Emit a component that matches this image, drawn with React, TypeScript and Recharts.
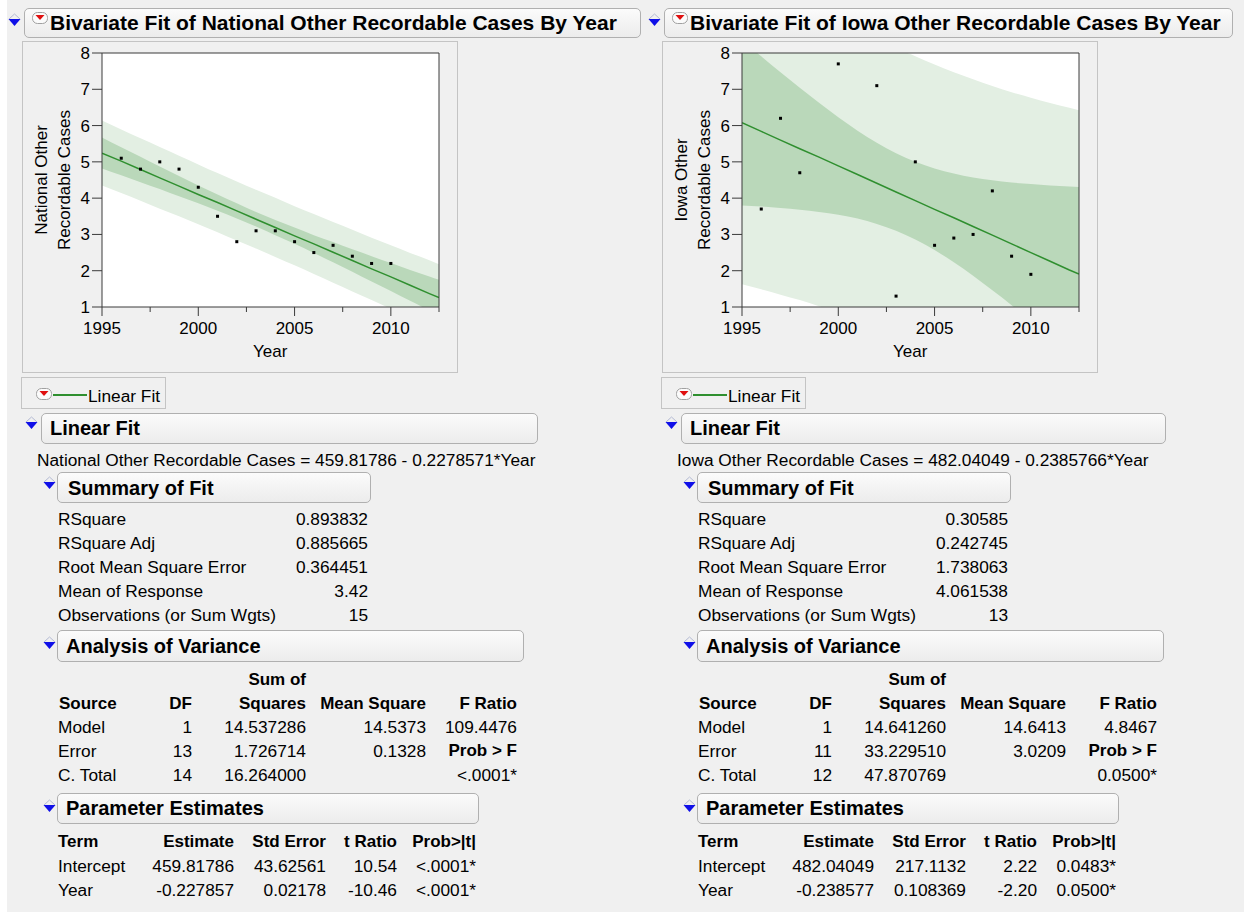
import React from "react";
import {
  Area,
  CartesianGrid,
  ComposedChart,
  Line,
  ReferenceLine,
  Scatter,
  XAxis,
  YAxis,
} from "recharts";

const FIT_YEARS = [
  1995, 1996, 1997, 1998, 1999, 2000, 2001, 2002, 2003, 2004, 2005, 2006,
  2007, 2008, 2009, 2010, 2011, 2012, 2012.5,
];

// National
const NAT_YEARS = [
  1996, 1997, 1998, 1999, 2000, 2001, 2002, 2003, 2004, 2005, 2006, 2007,
  2008, 2009, 2010,
];
const NAT_CASES = [
  5.1, 4.8, 5.0, 4.8, 4.3, 3.5, 2.8, 3.1, 3.1, 2.8, 2.5, 2.7, 2.4, 2.2, 2.2,
];
const NAT_FIT = [
  5.24, 5.02, 4.79, 4.56, 4.33, 4.1, 3.88, 3.65, 3.42, 3.19, 2.96, 2.74, 2.51,
  2.28, 2.05, 1.83, 1.6, 1.37, 1.26,
];
const NAT_CI_LO = [
  4.82, 4.63, 4.44, 4.25, 4.05, 3.86, 3.65, 3.44, 3.22, 2.98, 2.74, 2.49, 2.23,
  1.97, 1.7, 1.44, 1.17, 0.9, 0.76,
];
const NAT_CI_HI = [
  5.67, 5.4, 5.14, 4.87, 4.61, 4.35, 4.1, 3.86, 3.62, 3.4, 3.19, 2.98, 2.79,
  2.59, 2.4, 2.21, 2.02, 1.84, 1.75,
];
const NAT_PI_LO = [
  4.35, 4.14, 3.93, 3.71, 3.5, 3.28, 3.06, 2.83, 2.61, 2.38, 2.15, 1.91, 1.67,
  1.43, 1.19, 0.95, 0.7, 0.45, 0.33,
];
const NAT_PI_HI = [
  6.14, 5.89, 5.65, 5.41, 5.17, 4.93, 4.69, 4.46, 4.23, 4.01, 3.78, 3.56, 3.34,
  3.13, 2.91, 2.7, 2.49, 2.29, 2.18,
];

// Iowa
const IOWA_YEARS = [
  1996, 1997, 1998, 2000, 2002, 2003, 2004, 2005, 2006, 2007, 2008, 2009, 2010,
];
const IOWA_CASES = [3.7, 6.2, 4.7, 7.7, 7.1, 1.3, 5.0, 2.7, 2.9, 3.0, 4.2, 2.4, 1.9];
const IOWA_FIT = [
  6.08, 5.84, 5.6, 5.36, 5.13, 4.89, 4.65, 4.41, 4.17, 3.93, 3.69, 3.46, 3.22,
  2.98, 2.74, 2.5, 2.26, 2.02, 1.91,
];
const IOWA_CI_LO = [
  3.8, 3.77, 3.73, 3.68, 3.62, 3.54, 3.44, 3.29, 3.1, 2.86, 2.57, 2.23, 1.86,
  1.46, 1.05, 0.62, 0.18, -0.27, -0.5,
];
const IOWA_CI_HI = [
  8.36, 7.91, 7.47, 7.04, 6.63, 6.23, 5.86, 5.53, 5.24, 5.0, 4.82, 4.68, 4.57,
  4.49, 4.43, 4.39, 4.35, 4.32, 4.31,
];
const IOWA_PI_LO = [
  1.63, 1.49, 1.34, 1.19, 1.02, 0.83, 0.64, 0.43, 0.2, -0.04, -0.29, -0.56,
  -0.84, -1.14, -1.44, -1.76, -2.1, -2.44, -2.61,
];
const IOWA_PI_HI = [
  10.53, 10.19, 9.86, 9.54, 9.24, 8.94, 8.66, 8.4, 8.14, 7.91, 7.68, 7.47, 7.28,
  7.09, 6.92, 6.77, 6.62, 6.49, 6.42,
];

const X_TICKS = [1995, 1997.5, 2000, 2002.5, 2005, 2007.5, 2010, 2012.5];
const Y_TICKS = [1, 2, 3, 4, 5, 6, 7, 8];

// report tables
const SUMMARY_LABELS = [
  "RSquare",
  "RSquare Adj",
  "Root Mean Square Error",
  "Mean of Response",
  "Observations (or Sum Wgts)",
];
const NAT_SUMMARY = ["0.893832", "0.885665", "0.364451", "3.42", "15"];
const IOWA_SUMMARY = ["0.30585", "0.242745", "1.738063", "4.061538", "13"];

const ANOVA_SOURCES = ["Model", "Error", "C. Total"];
const NAT_DF = ["1", "13", "14"];
const NAT_SS = ["14.537286", "1.726714", "16.264000"];
const NAT_MS = ["14.5373", "0.1328", ""];
const IOWA_DF = ["1", "11", "12"];
const IOWA_SS = ["14.641260", "33.229510", "47.870769"];
const IOWA_MS = ["14.6413", "3.0209", ""];

const TERMS = ["Intercept", "Year"];
const NAT_EST = ["459.81786", "-0.227857"];
const NAT_SE = ["43.62561", "0.02178"];
const NAT_T = ["10.54", "-10.46"];
const NAT_P = ["<.0001*", "<.0001*"];
const IOWA_EST = ["482.04049", "-0.238577"];
const IOWA_SE = ["217.1132", "0.108369"];
const IOWA_T = ["2.22", "-2.20"];
const IOWA_P = ["0.0483*", "0.0500*"];

const FONT = '"Liberation Sans", Arial, sans-serif';
const AXIS = "#3a3a3a";
const GREEN = "#2f8f2f";
const LIGHT_BAND = "#e3efe3";
const DARK_BAND = "#bad8ba";
const BOX_BORDER = "#b0b0b0";
const BODY_SIZE = 17.3;
const HEAD_SIZE = 17;

function XTick(props: any) {
  const { x, y, payload } = props;
  const major = payload.value % 5 === 0;
  return (
    <g>
      <line x1={x} x2={x} y1={y} y2={y + (major ? 9 : 5)} stroke={AXIS} />
      {major && (
        <text x={x} y={y + 27} textAnchor="middle" fontSize={17} fill="#000" fontFamily={FONT}>
          {payload.value}
        </text>
      )}
    </g>
  );
}

function Dot(props: any) {
  const { cx, cy } = props;
  return <rect x={cx - 1.5} y={cy - 1.5} width={3} height={3} fill="#000" />;
}

interface PlotProps {
  years: number[];
  cases: number[];
  fit: number[];
  ciLo: number[];
  ciHi: number[];
  piLo: number[];
  piHi: number[];
}

function FitPlot({ years, cases, fit, ciLo, ciHi, piLo, piHi }: PlotProps) {
  const bands = FIT_YEARS.map((x, i) => ({
    x,
    fit: fit[i],
    ci: [ciLo[i], ciHi[i]],
    pi: [piLo[i], piHi[i]],
  }));
  const points = years.map((x, i) => ({ x, y: cases[i] }));

  return (
    <ComposedChart
      width={434}
      height={330}
      data={bands}
      margin={{ top: 11, right: 18, left: 0, bottom: 0 }}
    >
      <CartesianGrid fill="#ffffff" horizontal={false} vertical={false} />
      <XAxis
        dataKey="x"
        type="number"
        domain={[1995, 2012.5]}
        ticks={X_TICKS}
        interval={0}
        allowDataOverflow
        tick={<XTick />}
        tickLine={false}
        tickSize={0}
        tickMargin={0}
        axisLine={{ stroke: AXIS }}
        height={65}
      />
      <YAxis
        type="number"
        domain={[1, 8]}
        ticks={Y_TICKS}
        interval={0}
        allowDataOverflow
        width={79}
        tickSize={10}
        tickMargin={2}
        tick={{ fill: "#000", fontSize: 17, fontFamily: FONT }}
        tickLine={{ stroke: AXIS }}
        axisLine={{ stroke: AXIS }}
      />
      <Area
        dataKey="pi"
        type="monotone"
        fill={LIGHT_BAND}
        fillOpacity={1}
        stroke="none"
        isAnimationActive={false}
      />
      <Area
        dataKey="ci"
        type="monotone"
        fill={DARK_BAND}
        fillOpacity={1}
        stroke="none"
        isAnimationActive={false}
      />
      <Line
        dataKey="fit"
        type="linear"
        stroke={GREEN}
        strokeWidth={1.5}
        dot={false}
        isAnimationActive={false}
      />
      <Scatter data={points} dataKey="y" shape={<Dot />} isAnimationActive={false} />
      <ReferenceLine y={8} stroke={AXIS} />
      <ReferenceLine x={2012.5} stroke={AXIS} />
    </ComposedChart>
  );
}

function T({
  x,
  y,
  children,
  right,
  bold,
  size = BODY_SIZE,
}: {
  x: number;
  y: number;
  children: React.ReactNode;
  right?: boolean;
  bold?: boolean;
  size?: number;
}) {
  const style: React.CSSProperties = {
    position: "absolute",
    top: y - 12,
    height: 24,
    lineHeight: "24px",
    fontSize: size,
    fontWeight: bold ? 700 : 400,
    whiteSpace: "nowrap",
    color: "#000",
  };
  if (right) {
    style.left = x - 400;
    style.width = 400;
    style.textAlign = "right";
  } else {
    style.left = x;
  }
  return <div style={style}>{children}</div>;
}

function BlueTri({ x, y }: { x: number; y: number }) {
  return (
    <svg style={{ position: "absolute", left: x, top: y }} width={13} height={14}>
      <polyline points="1,6 6.5,1 12,6" fill="none" stroke="#b4bad4" strokeWidth={1} />
      <polygon points="0.5,6 12.5,6 6.5,13" fill="#1010e8" />
    </svg>
  );
}

function RedIcon({ x, y }: { x: number; y: number }) {
  return (
    <svg style={{ position: "absolute", left: x, top: y }} width={16} height={12}>
      <rect x={0.5} y={0.5} width={15} height={11} rx={5} fill="#fbfbfb" stroke="#a0a0a0" />
      <polygon points="3.5,3 12.5,3 8,8" fill="#e01010" />
    </svg>
  );
}

function Box({ x, y, w, h }: { x: number; y: number; w: number; h: number }) {
  return (
    <div
      style={{
        position: "absolute",
        left: x,
        top: y,
        width: w,
        height: h,
        boxSizing: "border-box",
        border: `1px solid ${BOX_BORDER}`,
        borderRadius: 5,
        background: "linear-gradient(#fbfbfb, #ececec)",
      }}
    />
  );
}

function RotLabel({ cx, cy, text }: { cx: number; cy: number; text: string }) {
  return (
    <div
      style={{
        position: "absolute",
        left: cx,
        top: cy,
        transform: "translate(-50%, -50%) rotate(-90deg)",
        whiteSpace: "nowrap",
        fontSize: 17,
        color: "#000",
      }}
    >
      {text}
    </div>
  );
}

interface PanelProps {
  ox: number;
  title: string;
  titleW: number;
  yLabel: string;
  lfW: number;
  equation: string;
  plot: PlotProps;
  summary: string[];
  df: string[];
  ss: string[];
  ms: string[];
  fRatio: string;
  probF: string;
  est: string[];
  se: string[];
  tr: string[];
  pv: string[];
}

function Panel(p: PanelProps) {
  const o = p.ox;
  const anovaRows = [727, 751, 775];
  const paramRows = [866, 890];
  return (
    <>
      <BlueTri x={8 + o} y={13} />
      <Box x={24 + o} y={8} w={p.titleW} h={30} />
      <RedIcon x={32 + o} y={12} />
      <T x={50 + o} y={23} bold size={21}>
        {p.title}
      </T>

      <div
        style={{
          position: "absolute",
          left: 22 + o,
          top: 41,
          width: 436,
          height: 332,
          boxSizing: "border-box",
          border: "1px solid #c4c4c4",
          background: "#f0f0f0",
        }}
      >
        <FitPlot {...p.plot} />
      </div>
      <RotLabel cx={42 + o} cy={180} text={p.yLabel} />
      <RotLabel cx={65 + o} cy={180} text="Recordable Cases" />
      <T x={253 + o} y={352} size={17}>
        Year
      </T>

      <div
        style={{
          position: "absolute",
          left: 21 + o,
          top: 377,
          width: 145,
          height: 32,
          boxSizing: "border-box",
          border: "1px solid #c4c4c4",
        }}
      />
      <RedIcon x={36 + o} y={388} />
      <div
        style={{
          position: "absolute",
          left: 53 + o,
          top: 394,
          width: 34,
          height: 2,
          background: GREEN,
        }}
      />
      <T x={88 + o} y={396}>
        Linear Fit
      </T>

      <BlueTri x={25 + o} y={416} />
      <Box x={41 + o} y={413} w={p.lfW} h={31} />
      <T x={50 + o} y={428} bold size={20}>
        Linear Fit
      </T>
      <T x={37 + o} y={460}>
        {p.equation}
      </T>

      <BlueTri x={43 + o} y={476} />
      <Box x={57 + o} y={472} w={314} h={31} />
      <T x={68 + o} y={488} bold size={20}>
        Summary of Fit
      </T>
      {SUMMARY_LABELS.map((label, i) => (
        <React.Fragment key={label}>
          <T x={58 + o} y={519 + i * 24}>
            {label}
          </T>
          <T x={368 + o} y={519 + i * 24} right>
            {p.summary[i]}
          </T>
        </React.Fragment>
      ))}

      <BlueTri x={43 + o} y={636} />
      <Box x={57 + o} y={630} w={467} h={32} />
      <T x={66 + o} y={646} bold size={20}>
        Analysis of Variance
      </T>
      <T x={306 + o} y={680} right bold size={HEAD_SIZE}>
        Sum of
      </T>
      <T x={59 + o} y={704} bold size={HEAD_SIZE}>
        Source
      </T>
      <T x={192 + o} y={704} right bold size={HEAD_SIZE}>
        DF
      </T>
      <T x={306 + o} y={704} right bold size={HEAD_SIZE}>
        Squares
      </T>
      <T x={426 + o} y={704} right bold size={HEAD_SIZE}>
        Mean Square
      </T>
      <T x={517 + o} y={704} right bold size={HEAD_SIZE}>
        F Ratio
      </T>
      {ANOVA_SOURCES.map((src, i) => (
        <React.Fragment key={src}>
          <T x={58 + o} y={anovaRows[i]}>
            {src}
          </T>
          <T x={192 + o} y={anovaRows[i]} right>
            {p.df[i]}
          </T>
          <T x={306 + o} y={anovaRows[i]} right>
            {p.ss[i]}
          </T>
          <T x={426 + o} y={anovaRows[i]} right>
            {p.ms[i]}
          </T>
        </React.Fragment>
      ))}
      <T x={517 + o} y={727} right>
        {p.fRatio}
      </T>
      <T x={517 + o} y={751} right bold size={HEAD_SIZE}>
        Prob &gt; F
      </T>
      <T x={517 + o} y={775} right>
        {p.probF}
      </T>

      <BlueTri x={43 + o} y={799} />
      <Box x={57 + o} y={793} w={422} h={31} />
      <T x={66 + o} y={808} bold size={20}>
        Parameter Estimates
      </T>
      <T x={58 + o} y={842} bold size={HEAD_SIZE}>
        Term
      </T>
      <T x={234 + o} y={842} right bold size={HEAD_SIZE}>
        Estimate
      </T>
      <T x={326 + o} y={842} right bold size={HEAD_SIZE}>
        Std Error
      </T>
      <T x={397 + o} y={842} right bold size={HEAD_SIZE}>
        t Ratio
      </T>
      <T x={476 + o} y={842} right bold size={HEAD_SIZE}>
        Prob&gt;|t|
      </T>
      {TERMS.map((term, i) => (
        <React.Fragment key={term}>
          <T x={58 + o} y={paramRows[i]}>
            {term}
          </T>
          <T x={234 + o} y={paramRows[i]} right>
            {p.est[i]}
          </T>
          <T x={326 + o} y={paramRows[i]} right>
            {p.se[i]}
          </T>
          <T x={397 + o} y={paramRows[i]} right>
            {p.tr[i]}
          </T>
          <T x={476 + o} y={paramRows[i]} right>
            {p.pv[i]}
          </T>
        </React.Fragment>
      ))}
    </>
  );
}

export default function App() {
  return (
    <div
      style={{
        position: "relative",
        width: 1244,
        height: 918,
        background: "#ffffff",
        fontFamily: FONT,
        overflow: "hidden",
      }}
    >
      <style>{"body{margin:0;}"}</style>
      <div
        style={{
          position: "absolute",
          left: 7,
          top: 0,
          width: 1237,
          height: 912,
          background: "#f0f0f0",
        }}
      />
      <Panel
        ox={0}
        title="Bivariate Fit of National Other Recordable Cases By Year"
        titleW={617}
        yLabel="National Other"
        lfW={497}
        equation="National Other Recordable Cases = 459.81786 - 0.2278571*Year"
        plot={{
          years: NAT_YEARS,
          cases: NAT_CASES,
          fit: NAT_FIT,
          ciLo: NAT_CI_LO,
          ciHi: NAT_CI_HI,
          piLo: NAT_PI_LO,
          piHi: NAT_PI_HI,
        }}
        summary={NAT_SUMMARY}
        df={NAT_DF}
        ss={NAT_SS}
        ms={NAT_MS}
        fRatio="109.4476"
        probF="<.0001*"
        est={NAT_EST}
        se={NAT_SE}
        tr={NAT_T}
        pv={NAT_P}
      />
      <Panel
        ox={640}
        title="Bivariate Fit of Iowa Other Recordable Cases By Year"
        titleW={569}
        yLabel="Iowa Other"
        lfW={485}
        equation="Iowa Other Recordable Cases = 482.04049 - 0.2385766*Year"
        plot={{
          years: IOWA_YEARS,
          cases: IOWA_CASES,
          fit: IOWA_FIT,
          ciLo: IOWA_CI_LO,
          ciHi: IOWA_CI_HI,
          piLo: IOWA_PI_LO,
          piHi: IOWA_PI_HI,
        }}
        summary={IOWA_SUMMARY}
        df={IOWA_DF}
        ss={IOWA_SS}
        ms={IOWA_MS}
        fRatio="4.8467"
        probF="0.0500*"
        est={IOWA_EST}
        se={IOWA_SE}
        tr={IOWA_T}
        pv={IOWA_P}
      />
    </div>
  );
}
